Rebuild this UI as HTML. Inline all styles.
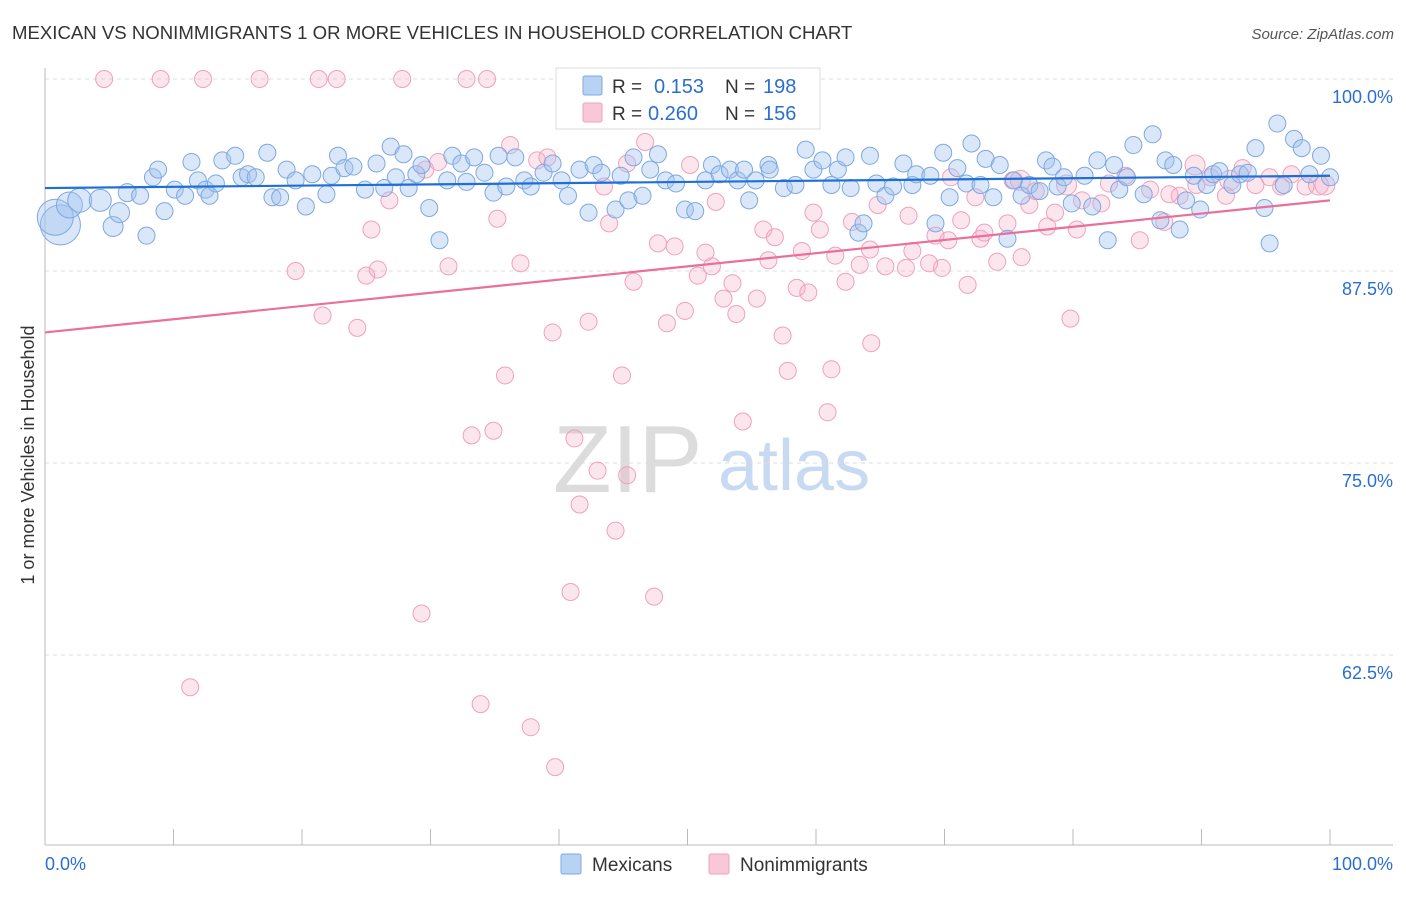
<!DOCTYPE html>
<html><head><meta charset="utf-8"><style>
body{margin:0;background:#fff;font-family:"Liberation Sans",sans-serif}
svg text{font-family:"Liberation Sans",sans-serif}
</style></head><body>
<svg id="chart" width="1406" height="892" viewBox="0 0 1406 892" xmlns="http://www.w3.org/2000/svg">
<text x="12" y="39" font-size="18.6" fill="#333">MEXICAN VS NONIMMIGRANTS 1 OR MORE VEHICLES IN HOUSEHOLD CORRELATION CHART</text>
<text x="1394" y="39" font-size="15" fill="#555" text-anchor="end" font-style="italic">Source: ZipAtlas.com</text>
<g>
<text x="553" y="492" font-size="96" font-family="Liberation Serif" fill="#dcdcdc">ZIP</text>
<text x="718" y="490" font-size="72" fill="#c8daf2">atlas</text>
</g>
<g id="grid"></g>
<g id="axes"></g>
<g id="pink"></g>
<g id="blue"></g>
<g id="lines"></g>
<g>
<rect x="556" y="68" width="264" height="61" fill="#fff" stroke="#ddd"/>
<rect x="583" y="76" width="19" height="19" fill="#b8d2f4" stroke="#7fa8e0" rx="2"/>
<text x="612" y="93" font-size="19" fill="#333">R =</text>
<text x="654" y="93" font-size="20" fill="#2a6fd0">0.153</text>
<text x="725" y="93" font-size="19" fill="#333">N =</text>
<text x="763" y="93" font-size="20" fill="#2a6fd0">198</text>
<rect x="583" y="103" width="19" height="19" fill="#f8c8d8" stroke="#f0a0bc" rx="2"/>
<text x="612" y="120" font-size="19" fill="#333">R =</text>
<text x="648" y="120" font-size="20" fill="#2a6fd0">0.260</text>
<text x="725" y="120" font-size="19" fill="#333">N =</text>
<text x="763" y="120" font-size="20" fill="#2a6fd0">156</text>
</g>
<g>
<rect x="561" y="854" width="20" height="20" fill="#b8d2f4" stroke="#7fa8e0" rx="2"/>
<text x="592" y="871" font-size="19" fill="#333">Mexicans</text>
<rect x="709" y="854" width="20" height="20" fill="#f8c8d8" stroke="#f0a0bc" rx="2"/>
<text x="740" y="871" font-size="19" fill="#333">Nonimmigrants</text>
</g>
<text transform="translate(34,455) rotate(-90)" font-size="18" fill="#333" text-anchor="middle">1 or more Vehicles in Household</text>
<text x="45" y="870" font-size="18" fill="#2a6fd0">0.0%</text>
<text x="1393" y="870" font-size="18" fill="#2a6fd0" text-anchor="end">100.0%</text>
</svg>
<script>
const yTicks=[100,87.5,75,62.5];
const yTickLabels=["100.0%","87.5%","75.0%","62.5%"];
const blueX=[1.2,0.8,1.9,2.7,4.3,5.3,5.8,6.4,7.4,7.9,8.4,8.8,9.3,10.1,10.9,11.4,11.9,12.5,12.8,13.3,13.8,14.8,15.3,15.8,16.4,17.3,17.7,18.3,18.8,19.5,20.3,20.8,21.9,22.3,22.8,23.3,24,24.9,25.8,26.4,26.9,27.3,27.9,28.3,28.9,29.3,29.9,30.7,31.3,31.7,32.4,32.8,33.4,34.2,34.9,35.3,35.9,36.6,37.3,37.8,38.8,39.5,40.2,40.7,41.6,42.3,42.7,43.3,44.4,44.8,45.4,45.8,46.5,47.1,47.7,48.3,49.1,49.8,50.6,51.4,51.9,52.5,53.3,53.9,54.4,54.8,55.3,56.3,56.4,57.5,58.4,59.2,59.8,60.5,61.2,61.7,62.3,62.7,63.3,63.7,64.2,64.7,65.4,66,66.8,67.5,67.8,68.9,69.3,69.9,70.4,71,71.7,72.1,72.8,73.2,73.8,74.3,74.9,75.4,76,76.6,77.4,77.9,78.4,78.8,79.3,79.9,80.9,81.5,81.9,82.7,83.2,83.6,84.2,84.7,85.5,86.2,86.8,87.2,87.8,88.3,88.8,89.4,89.9,90.4,90.9,91.4,92.4,93,93.6,94.2,94.9,95.3,95.9,96.4,97.2,97.8,98.4,99.3,100];
const blueY=[90.5,91,91.8,92.1,92.1,90.4,91.3,92.6,92.4,89.8,93.6,94.1,91.4,92.8,92.4,94.6,93.4,92.8,92.4,93.2,94.7,95,93.6,93.8,93.6,95.2,92.3,92.3,94.1,93.4,91.7,93.8,92.5,93.7,95,94.2,94.3,92.8,94.5,92.9,95.6,93.6,95.1,92.9,93.8,94.4,91.6,89.5,93.4,95,94.5,93.3,94.9,93.9,92.6,95,93,94.9,93.4,93,93.9,94.5,93.4,92.4,94.1,91.3,94.4,93.9,91.5,93.7,92.1,94.9,92.4,94.1,95.1,93.4,93.2,91.5,91.4,93.4,94.4,93.8,94.1,93.4,94.1,92.1,93.4,94.4,94.1,92.9,93.1,95.4,94.1,94.7,93.1,94.1,94.9,92.9,90,90.6,95,93.2,92.4,93,94.5,93.1,93.8,93.7,90.6,95.2,92.3,94.2,93.2,95.8,93.1,94.8,92.3,94.4,89.6,93.4,92.4,93.1,92.7,94.7,94.3,93,93.6,91.9,93.7,91.7,94.7,89.5,94.4,92.8,93.6,95.7,92.5,96.4,90.8,94.7,94.4,90.2,92.1,93.7,91.5,93.1,93.8,94,93.1,93.8,93.9,95.5,91.6,89.3,97.1,93.1,96.1,95.5,93.8,95,93.6];
const blueSize=[20,18,13,12,11,10,10,9];
const pinkX=[4.6,9,12.3,16.7,21.3,22.7,27.8,32.8,34.4,11.3,33.9,37.8,39.7,29.3,40.9,47.4,44.4,41.6,43,45.3,41.2,33.2,34.9,54.3,60.9,35.8,44.9,57.8,61.2,39.5,42.3,24.3,21.6,48.4,49.8,53.8,57.4,64.3,79.8,19.5,25,25.9,31.4,37,45.8,50.8,51.9,53.5,55.4,52.8,58.5,59.4,62.3,63.4,65.4,67,68.8,69.8,71.8,74.1,76,47.7,49,51.4,56.3,58.9,61.5,64.2,67.5,70.3,72.8,80.3,85.2,25.4,35.2,43.9,52.2,55.9,56.8,59.8,60.3,62.8,64.8,67.2,69.3,71.3,73.1,74.9,78,80.7,87.1,88.3,26.8,29.6,30.6,36.2,38.3,39.1,46.7,50.2,43.5,45.3,70.5,72.4,75.3,76.6,77.1,78.6,82.2,82.8,84.1,86,87.5,89.6,90.7,91.9,93.2,94.2,95.3,96.2,97,98.1,99.1,99.6,89.5,92.2,75.9,79.5];
const pinkY=[100,100,100,100,100,100,100,100,100,60.4,59.3,57.8,55.2,65.2,66.6,66.3,70.6,72.3,74.5,74.2,76.6,76.8,77.1,77.7,78.3,80.7,80.7,81,81.1,83.5,84.2,83.8,84.6,84.1,84.9,84.7,83.3,82.8,84.4,87.5,87.2,87.6,87.8,88,86.8,87.2,87.8,86.7,85.7,85.7,86.4,86.1,86.8,87.9,87.8,87.7,88,87.7,86.6,88.1,88.4,89.3,89.1,88.7,88.2,88.8,88.5,88.9,88.8,89.5,89.6,90.2,89.5,90.2,90.9,90.6,92,90.2,89.7,91.3,90.2,90.7,91.8,91.1,89.8,90.8,90,90.6,90.4,92.1,90.7,92.4,92.1,94.1,94.6,95.7,94.7,94.9,95.9,94.4,93,94.5,93.6,92.3,93.4,91.8,92.7,91.3,91.9,93.2,93.7,92.8,92.5,93.1,93.6,92.4,94.2,93.1,93.6,93,93.8,93,93.1,93.1,94.4,93.4,93.4,93.1];
const blueTrend=[92.9,93.7];
const pinkTrend=[83.5,92.1];

const X0=45,X1=1330,YTOP=79,PXP=15.36;
const sx=v=>X0+(X1-X0)*v/100;
const sy=v=>YTOP+(100-v)*PXP;
const NS="http://www.w3.org/2000/svg";
function mk(tag,parent,attrs){const e=document.createElementNS(NS,tag);for(const k in attrs)e.setAttribute(k,attrs[k]);parent.appendChild(e);return e;}
const grid=document.getElementById('grid'),axes=document.getElementById('axes');
yTicks.forEach((t,i)=>{
  const l=mk('line',grid,{x1:X0,x2:1393,y1:sy(t),y2:sy(t),stroke:'#ddd','stroke-dasharray':'4,4'});
  
  
  const tx=mk('text',grid,{x:1393,y:sy(t)+24,'font-size':18,fill:'#2a6fd0','text-anchor':'end'});
  tx.textContent=yTickLabels[i];
  
  
});
const ax=mk('line',axes,{x1:X0,x2:1393,y1:845,y2:845,stroke:'#bbb'});


const ay=mk('line',axes,{x1:X0,x2:X0,y1:68,y2:845,stroke:'#bbb'});


for(let i=0;i<=10;i++){
  const t=mk('line',axes,{x1:sx(i*10),x2:sx(i*10),y1:829,y2:845,stroke:'#bbb'});
  
  
}
const pg=document.getElementById('pink');
pinkX.forEach((x,i)=>{
  const c=mk('circle',pg,{cx:sx(x),cy:sy(pinkY[i]),r:(i>=pinkX.length-6?10:8.5),fill:'rgba(246,172,198,0.3)',stroke:'#f0a0bc','stroke-width':1});
  
  
});
const bg=document.getElementById('blue');
blueX.forEach((x,i)=>{
  const c=mk('circle',bg,{cx:sx(x),cy:sy(blueY[i]),r:blueSize[i]||8.5,fill:'rgba(160,195,240,0.4)',stroke:'#7fa8e0','stroke-width':1});
  
  
});
const lg=document.getElementById('lines');
const bl=mk('line',lg,{x1:sx(0),y1:sy(blueTrend[0]),x2:sx(100),y2:sy(blueTrend[1]),stroke:'#1e6fd6','stroke-width':2.2});


const pl=mk('line',lg,{x1:sx(0),y1:sy(pinkTrend[0]),x2:sx(100),y2:sy(pinkTrend[1]),stroke:'#e8709a','stroke-width':2.2});


</script>
</body></html>
